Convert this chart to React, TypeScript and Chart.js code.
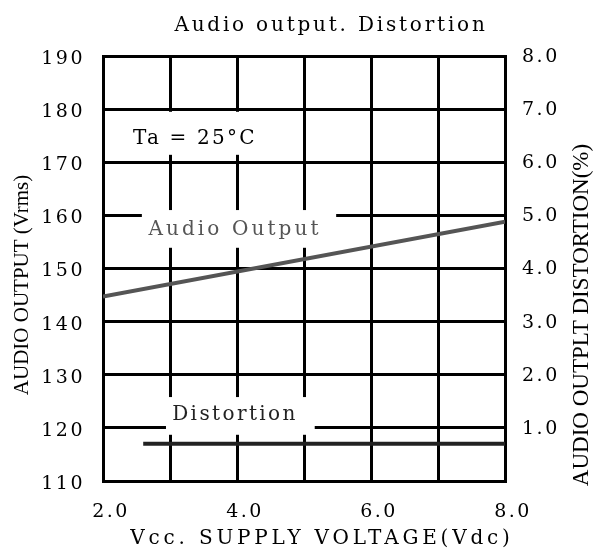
import React, { useEffect, useRef } from "react";
import { Chart, registerables } from "chart.js";

Chart.register(...registerables);

// ---- data ----
const supplyVoltage = [2.0, 8.0];
const audioOutput = [144.7, 158.8];
const distortionVoltage = [2.6, 8.0];
const distortionPct = [0.7, 0.7];

const chartTitle = "Audio output. Distortion";
const xTitle = "Vcc. SUPPLY VOLTAGE(Vdc)";
const yLeftTitle = "AUDIO OUTPUT (Vrms)";
const yRightTitle = "AUDIO OUTPLT DISTORTION(%)";

// in-plot labels: text, anchor (x, y in data units), knock-out box (x0,x1,y0,y1 in data units)
const plotLabels = [
  { text: "Ta = 25°C", x: 3.37, y: 174.5, box: [2.33, 4.42, 171.4, 179.5], color: "#000", spacing: 2.2 },
  { text: "Audio Output", x: 3.97, y: 157.2, box: [2.58, 5.48, 153.9, 161.0], color: "#555", spacing: 3.1 },
  { text: "Distortion", x: 3.97, y: 122.4, box: [2.94, 5.16, 118.7, 125.8], color: "#222", spacing: 2.4 },
];

const SLAB = "'DejaVu Serif', serif";
const TIMES = "'Liberation Serif', serif";

const spacingPlugin = {
  id: "spacing",
  beforeLayout(chart: any) {
    chart.ctx.letterSpacing = "2.5px";
  },
  beforeDraw(chart: any) {
    chart.ctx.letterSpacing = "2.5px";
  },
};

const labelsPlugin = {
  id: "plotLabels",
  beforeDatasetsDraw(chart: any) {
    const { ctx, scales } = chart;
    const xs = scales.x;
    const ys = scales.y;
    ctx.save();
    plotLabels.forEach((l) => {
      const x0 = xs.getPixelForValue(l.box[0]);
      const x1 = xs.getPixelForValue(l.box[1]);
      const y0 = ys.getPixelForValue(l.box[3]);
      const y1 = ys.getPixelForValue(l.box[2]);
      ctx.fillStyle = "#fff";
      ctx.fillRect(x0, y0, x1 - x0, y1 - y0);
    });
    plotLabels.forEach((l) => {
      ctx.letterSpacing = l.spacing + "px";
      ctx.font = `20px ${SLAB}`;
      ctx.fillStyle = l.color;
      ctx.textAlign = "center";
      ctx.textBaseline = "middle";
      ctx.fillText(l.text, xs.getPixelForValue(l.x), ys.getPixelForValue(l.y));
    });
    ctx.restore();
  },
  afterDraw(chart: any) {
    const { ctx } = chart;
    ctx.save();
    ctx.fillStyle = "#000";
    ctx.textAlign = "center";
    ctx.textBaseline = "middle";
    // chart title
    ctx.letterSpacing = "2.8px";
    ctx.font = `20px ${SLAB}`;
    ctx.fillText(chartTitle, 331, 26);
    // x title
    ctx.letterSpacing = "3.8px";
    ctx.font = `20px ${SLAB}`;
    ctx.fillText(xTitle, 322, 539);
    // left title
    ctx.letterSpacing = "0px";
    ctx.font = `21px ${TIMES}`;
    ctx.save();
    ctx.translate(22, 285);
    ctx.rotate(-Math.PI / 2);
    ctx.fillText(yLeftTitle, 0, 0);
    ctx.restore();
    // right title
    ctx.font = `23px ${TIMES}`;
    ctx.save();
    ctx.translate(582, 315);
    ctx.rotate(-Math.PI / 2);
    ctx.fillText(yRightTitle, 0, 0);
    ctx.restore();
    ctx.restore();
  },
};

export default function App() {
  const ref = useRef<HTMLCanvasElement>(null);
  useEffect(() => {
    if (!ref.current) return;
    const chart = new Chart(ref.current, {
      type: "line",
      data: {
        datasets: [
          {
            label: "Audio Output",
            data: supplyVoltage.map((v, i) => ({ x: v, y: audioOutput[i] })),
            yAxisID: "y",
            borderColor: "#555",
            borderWidth: 4,
            pointRadius: 0,
            borderCapStyle: "butt",
          },
          {
            label: "Distortion",
            data: distortionVoltage.map((v, i) => ({ x: v, y: distortionPct[i] })),
            yAxisID: "y2",
            borderColor: "#222",
            borderWidth: 4,
            pointRadius: 0,
            borderCapStyle: "butt",
          },
        ],
      },
      options: {
        animation: false,
        responsive: false,
        layout: { padding: { top: 56, left: 0, right: 0, bottom: 0 } },
        plugins: { legend: { display: false }, tooltip: { enabled: false }, title: { display: false } },
        scales: {
          x: {
            type: "linear",
            min: 2,
            max: 8,
            afterFit: (s: any) => {
              s.height = 70;
            },
            grid: { color: "#000", lineWidth: 3, drawTicks: false },
            border: { color: "#000", width: 3 },
            ticks: {
              stepSize: 1,
              padding: 20,
              labelOffset: 8,
              maxRotation: 0,
              autoSkip: false,
              color: "#000",
              font: { family: SLAB, size: 19 },
              callback: (v: any) => (Number(v) % 2 === 0 ? Number(v).toFixed(1) : ""),
            },
          },
          y: {
            type: "linear",
            position: "left",
            min: 110,
            max: 190,
            afterFit: (s: any) => {
              s.width = 103;
            },
            grid: { color: "#000", lineWidth: 3, drawTicks: false },
            border: { color: "#000", width: 3 },
            ticks: {
              stepSize: 10,
              padding: 18,
              labelOffset: 3,
              color: "#000",
              font: { family: SLAB, size: 19 },
            },
          },
          y2: {
            type: "linear",
            position: "right",
            min: 0,
            max: 8,
            afterFit: (s: any) => {
              s.width = 89;
            },
            grid: { display: false, drawTicks: false },
            border: { color: "#000", width: 3 },
            ticks: {
              stepSize: 1,
              padding: 17,
              labelOffset: 1,
              color: "#000",
              font: { family: SLAB, size: 19 },
              callback: (v: any) => (Number(v) === 0 ? "" : Number(v).toFixed(1)),
            },
          },
        },
      },
      plugins: [spacingPlugin, labelsPlugin],
    } as any);
    return () => chart.destroy();
  }, []);
  return (
    <div style={{ position: "absolute", left: 0, top: 0, width: 594, height: 551, background: "#fff" }}>
      <canvas ref={ref} width={594} height={551} style={{ display: "block" }} />
    </div>
  );
}
